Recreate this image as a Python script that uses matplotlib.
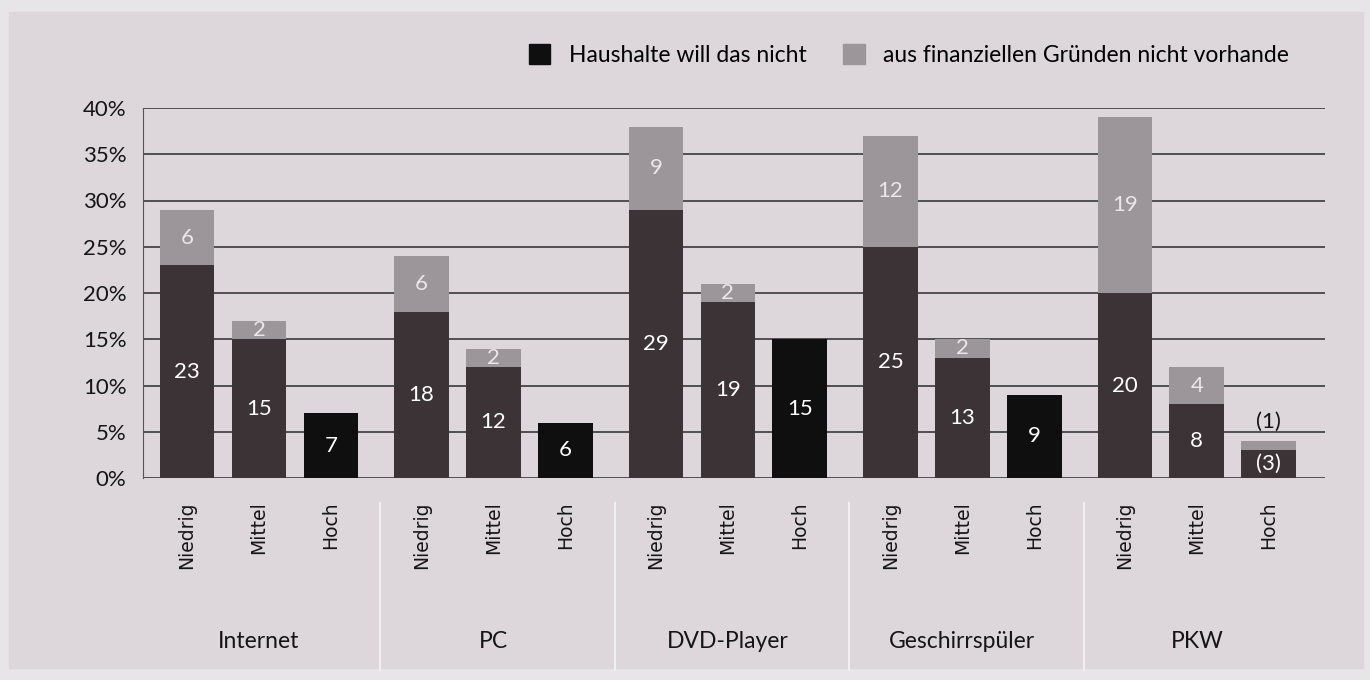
import matplotlib.pyplot as plt
import matplotlib.patches as mpatches
from matplotlib.lines import Line2D
import numpy as np

plt.rcParams['font.family'] = ['Lato', 'DejaVu Sans']

# data (percent of households)
categories = ['Internet', 'PC', 'DVD-Player', 'Geschirrspüler', 'PKW']
levels = ['Niedrig', 'Mittel', 'Hoch']
will_nicht = [23, 15, 7, 18, 12, 6, 29, 19, 15, 25, 13, 9, 20, 8, 3]
finanziell = [6, 2, 0, 6, 2, 0, 9, 2, 0, 12, 2, 0, 19, 4, 1]
will_labels = ['23', '15', '7', '18', '12', '6', '29', '19', '15', '25', '13', '9', '20', '8', '(3)']
fin_labels = ['6', '2', '', '6', '2', '', '9', '2', '', '12', '2', '', '19', '4', '(1)']
yticks = [0, 5, 10, 15, 20, 25, 30, 35, 40]

c_dark = '#3c3337'
c_black = '#0f0f0f'
c_gray = '#9c969a'
bg = '#ddd7dc'
txt = '#151515'

fig = plt.figure(figsize=(13.7, 6.8), dpi=100, facecolor='#e8e5e9')
fig.add_artist(mpatches.Rectangle((9 / 1370, 12 / 680), 1354 / 1370, 656 / 680,
                                  transform=fig.transFigure, color=bg, zorder=0))
ax = fig.add_axes([143 / 1370, 1 - 478 / 680, 1182 / 1370, 370 / 680])
ax.set_facecolor('none')

# bar positions: 3 bars per group, groups 3 units apart
x = []
for g in range(len(categories)):
    for k in range(len(levels)):
        x.append(3 * g + 1 + (k - 1) * 0.92)
x = np.array(x)

colors = []
for i in range(len(x)):
    if i % 3 == 2 and i != len(x) - 1:
        colors.append(c_black)
    else:
        colors.append(c_dark)

ax.bar(x, will_nicht, width=0.7, color=colors, zorder=3)
ax.bar(x, finanziell, width=0.7, bottom=will_nicht, color=c_gray, zorder=3)

for i in range(len(x)):
    ax.text(x[i], will_nicht[i] / 2, will_labels[i], ha='center', va='center',
            color='white', fontsize=16, zorder=4)
    if fin_labels[i] == '':
        continue
    if fin_labels[i].startswith('('):
        ax.text(x[i], will_nicht[i] + finanziell[i] + 1.0, fin_labels[i], ha='center',
                va='bottom', color=txt, fontsize=16, zorder=4)
    else:
        ax.text(x[i], will_nicht[i] + finanziell[i] / 2, fin_labels[i], ha='center',
                va='center', color='#ece6ea', fontsize=16, zorder=4)

# grid lines
for t in yticks:
    ax.axhline(t, color='#454545', linewidth=1.3, zorder=1)

ax.set_xlim(-0.484, 14.64)
ax.set_ylim(0, 40)
ax.set_yticks(yticks)
ax.set_yticklabels([str(t) + '%' for t in yticks], fontsize=16, color=txt)
ax.set_xticks(x)
ax.set_xticklabels(levels * len(categories), rotation=90, fontsize=13.5, color=txt,
                   family='DejaVu Sans')
ax.tick_params(axis='x', length=0, pad=17)
ax.tick_params(axis='y', length=0, pad=12)
for s in ['top', 'right', 'bottom']:
    ax.spines[s].set_visible(False)
ax.spines['left'].set_color('#555555')

# group names and separators
trans = ax.get_xaxis_transform()
for g, name in enumerate(categories):
    ax.text(3 * g + 1, -0.443, name, transform=trans, ha='center', va='center',
            fontsize=16.5, color=txt)
for g in range(1, len(categories)):
    ax.add_line(Line2D([3 * g - 0.45, 3 * g - 0.45], [-0.068, -0.519], transform=trans,
                       color='#f2eff2', linewidth=1.5, clip_on=False))

handles = [mpatches.Patch(color=c_black), mpatches.Patch(color=c_gray)]
fig.legend(handles, ['Haushalte will das nicht', 'aus finanziellen Gründen nicht vorhande'],
           loc='center left', bbox_to_anchor=(508 / 1370, 1 - 55 / 680), ncol=2,
           frameon=False, fontsize=16.5, handlelength=0.95, handleheight=0.95,
           handletextpad=0.8, columnspacing=1.6)

plt.savefig('out.png', dpi=100, facecolor=fig.get_facecolor())
